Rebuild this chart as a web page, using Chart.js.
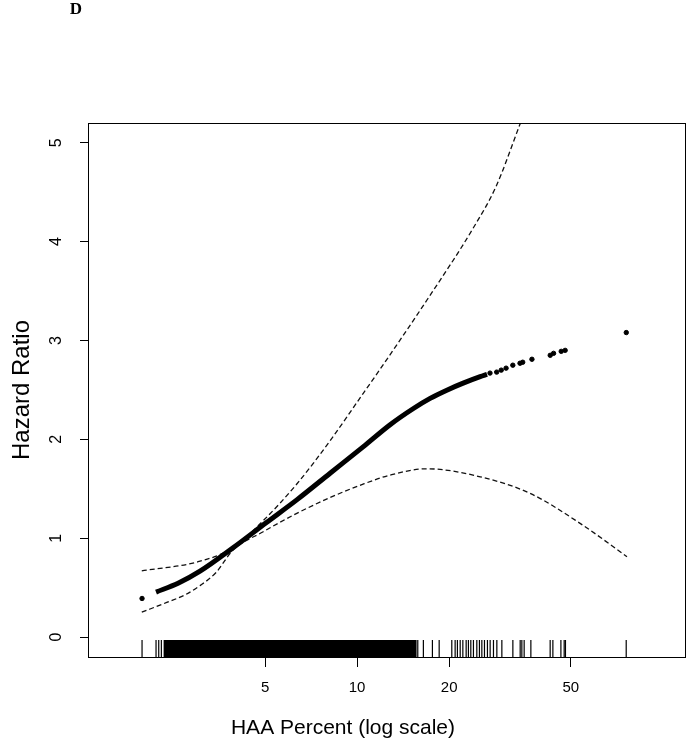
<!DOCTYPE html>
<html>
<head>
<meta charset="utf-8">
<script src="https://cdn.jsdelivr.net/npm/chart.js@4.4.1/dist/chart.umd.min.js"></script>
<style>
  html, body { margin: 0; padding: 0; background: #fff; }
  #wrap { width: 689px; height: 750px; }
</style>
</head>
<body>
<div id="wrap"><canvas id="hrChart" width="689" height="750"></canvas></div>
<script>
// --- data ---
const xTicks = [5, 10, 20, 50];
const yTicks = [0, 1, 2, 3, 4, 5];

// fitted hazard ratio (dense part of the curve)
const fitX  = [2.20, 2.597, 3.064, 3.929, 5.04, 6.365, 8.16, 10.46, 12.82, 15.28, 17.33, 19.65, 22.22, 25.26, 26.6];
const fitHR = [0.455, 0.544, 0.666, 0.903, 1.156, 1.390, 1.657, 1.924, 2.148, 2.312, 2.414, 2.497, 2.568, 2.634, 2.657];

// isolated fitted points
const dotX  = [1.98, 27.2, 28.6, 29.6, 30.7, 32.3, 34.1, 34.8, 37.3, 42.8, 43.9, 46.5, 47.9, 75.9];
const dotHR = [0.39, 2.67, 2.68, 2.70, 2.72, 2.75, 2.77, 2.78, 2.81, 2.85, 2.87, 2.89, 2.90, 3.08];

// confidence bounds
const upperX  = [1.976, 2.99, 3.929, 4.93, 6.35, 8.16, 10.46, 11.89, 16.9, 23.95, 28.49, 33.7, 36.8];
const upperHR = [0.670, 0.758, 0.903, 1.177, 1.548, 1.986, 2.463, 2.709, 3.407, 4.135, 4.56, 5.147, 5.466];
const lowerX  = [1.976, 2.385, 2.75, 3.064, 3.45, 3.929, 4.93, 6.35, 8.16, 10.46, 12.82, 16.9, 25.26, 36.8, 53.6, 76.3];
const lowerHR = [0.251, 0.350, 0.430, 0.520, 0.650, 0.880, 1.065, 1.251, 1.411, 1.547, 1.638, 1.702, 1.621, 1.453, 1.150, 0.813];

// rug: single observations and the solid band where they merge
const rugX = [1.98, 2.20, 2.245, 2.29, 15.79, 16.47, 17.63, 18.55, 20.40, 20.92, 21.28, 21.73,
              22.17, 22.73, 23.12, 23.54, 24.01, 24.63, 25.12, 25.58, 26.09, 26.68, 27.23, 27.92,
              28.64, 29.74, 32.31, 34.14, 34.57, 35.18, 37.00, 42.79, 43.67, 46.39, 47.55, 48.01, 75.86];
const rugBand = [2.325, 15.67];

// --- axis limits / styling constants ---
const X_MIN = 1.318, X_MAX = 119;
const Y_MIN = -0.202, Y_MAX = 5.2;
const RUG_TOP = -0.03;
const RUG_MID = (RUG_TOP + Y_MIN) / 2;
const FONT = '"Liberation Sans", Arial, sans-serif';

const pts = (xs, ys) => xs.map((x, i) => ({ x: x, y: ys[i] }));

// box, rotated y labels, titles and panel letter
const decor = {
    id: 'decor',
    afterDraw(chart) {
        const { ctx, chartArea: a, scales } = chart;
        ctx.save();
        ctx.strokeStyle = '#000';
        ctx.lineWidth = 1;
        ctx.strokeRect(a.left + 0.5, a.top + 0.5, a.right - a.left - 1, a.bottom - a.top);

        ctx.fillStyle = '#000';
        ctx.textAlign = 'center';
        ctx.textBaseline = 'middle';

        ctx.font = '16px ' + FONT;
        yTicks.forEach(v => {
            const y = scales.y.getPixelForValue(v);
            ctx.save();
            ctx.translate(a.left - 31, y);
            ctx.rotate(-Math.PI / 2);
            ctx.fillText(String(v), 0, 0);
            ctx.restore();
        });

        ctx.save();
        ctx.font = '24px ' + FONT;
        ctx.translate(22, (a.top + a.bottom) / 2);
        ctx.rotate(-Math.PI / 2);
        ctx.fillText('Hazard Ratio', 0, 0);
        ctx.restore();

        ctx.font = '21px ' + FONT;
        ctx.fillText('HAA Percent (log scale)', a.left + 255, 728);

        ctx.font = 'bold 17px "Liberation Serif", "Times New Roman", serif';
        ctx.fillText('D', 76, 10);
        ctx.restore();
    }
};

const dashed = {
    type: 'line', borderColor: '#111', borderWidth: 1.3, borderDash: [5, 3],
    pointRadius: 0, cubicInterpolationMode: 'monotone', fill: false
};

new Chart(document.getElementById('hrChart'), {
    type: 'scatter',
    data: {
        datasets: [
            {
                type: 'line', label: 'HR', data: pts(fitX, fitHR),
                borderColor: '#000', borderWidth: 5, pointRadius: 0,
                cubicInterpolationMode: 'monotone', fill: false
            },
            {
                label: 'HR points', data: pts(dotX, dotHR),
                backgroundColor: '#000', borderColor: '#000', pointRadius: 2.2, pointHoverRadius: 2.2
            },
            Object.assign({ label: 'Upper', data: pts(upperX, upperHR) }, dashed),
            Object.assign({ label: 'Lower', data: pts(lowerX, lowerHR) }, dashed),
            {
                label: 'Rug', data: rugX.map(x => ({ x: x, y: RUG_MID })),
                pointStyle: 'line', rotation: 90, pointRadius: 8.5, pointHoverRadius: 8.5,
                borderColor: '#000', borderWidth: 1.2, clip: false
            },
            {
                type: 'line', label: 'Rug band', data: rugBand.map(x => ({ x: x, y: RUG_TOP })),
                borderWidth: 0, pointRadius: 0, backgroundColor: '#000', fill: 'start'
            }
        ]
    },
    options: {
        responsive: false,
        animation: false,
        events: [],
        layout: { autoPadding: false, padding: { top: 123, right: 3, left: 0, bottom: 0 } },
        plugins: { legend: { display: false }, tooltip: { enabled: false } },
        scales: {
            x: {
                type: 'logarithmic', min: X_MIN, max: X_MAX,
                afterBuildTicks: s => { s.ticks = xTicks.map(v => ({ value: v })); },
                afterFit: s => { s.height = 93; },
                border: { display: false },
                grid: { drawOnChartArea: false, drawTicks: true, tickLength: 10, tickColor: '#000', color: '#000' },
                ticks: { color: '#000', font: { family: FONT, size: 15 }, padding: 12,
                         maxRotation: 0, autoSkip: false, callback: v => String(v) }
            },
            y: {
                type: 'linear', min: Y_MIN, max: Y_MAX,
                afterBuildTicks: s => { s.ticks = yTicks.map(v => ({ value: v })); },
                afterFit: s => { s.width = 88; },
                border: { display: false },
                grid: { drawOnChartArea: false, drawTicks: true, tickLength: 8, tickColor: '#000', color: '#000' },
                ticks: { display: false }
            }
        }
    },
    plugins: [decor]
});
</script>
</body>
</html>
